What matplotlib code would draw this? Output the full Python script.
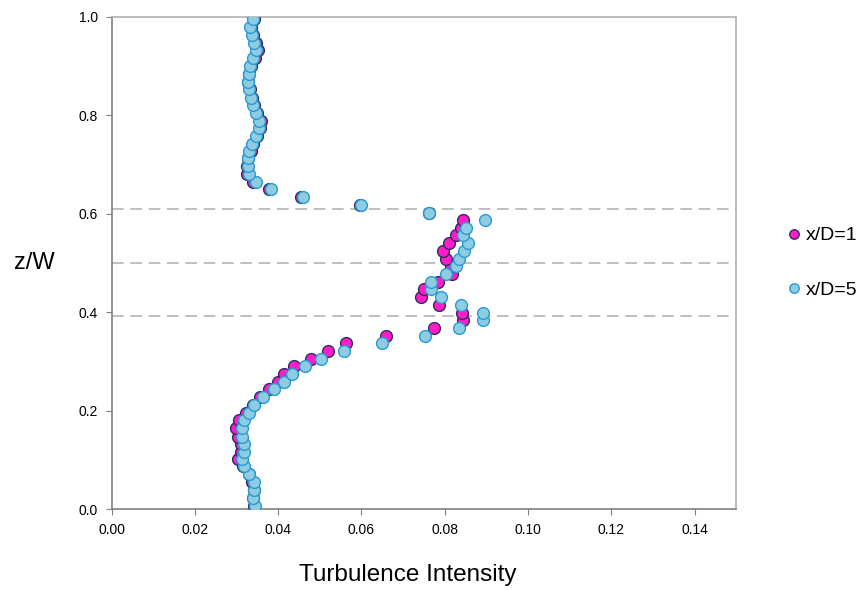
import matplotlib.pyplot as plt

plt.rcParams['font.family'] = ['Liberation Sans', 'DejaVu Sans']

# z/W positions of the measurement points (bottom to top)
z_w = [0.006, 0.022, 0.039, 0.055, 0.071, 0.087, 0.101, 0.116, 0.132, 0.147,
       0.164, 0.180, 0.196, 0.211, 0.227, 0.243, 0.258, 0.274, 0.290, 0.305,
       0.321, 0.337, 0.352, 0.368, 0.384, 0.399, 0.415, 0.430, 0.447, 0.462,
       0.477, 0.493, 0.508, 0.524, 0.540, 0.556, 0.571, 0.586, 0.602, 0.618,
       0.634, 0.650, 0.665, 0.681, 0.696, 0.712, 0.727, 0.742, 0.758, 0.773,
       0.788, 0.804, 0.821, 0.835, 0.852, 0.868, 0.884, 0.900, 0.915, 0.932,
       0.947, 0.962, 0.979, 0.994]

ti_xd1 = [0.0343, 0.0340, 0.0342, 0.0338, 0.0330, 0.0316, 0.0303, 0.0310, 0.0310, 0.0303,
          0.0298, 0.0305, 0.0323, 0.0340, 0.0357, 0.0378, 0.0399, 0.0415, 0.0437, 0.0478,
          0.0519, 0.0563, 0.0658, 0.0775, 0.0843, 0.0842, 0.0787, 0.0743, 0.0751, 0.0785,
          0.0817, 0.0815, 0.0803, 0.0797, 0.0811, 0.0827, 0.0839, 0.0843, 0.0763, 0.0597,
          0.0454, 0.0378, 0.0339, 0.0326, 0.0325, 0.0328, 0.0335, 0.0340, 0.0348, 0.0356,
          0.0358, 0.0350, 0.0342, 0.0336, 0.0332, 0.0328, 0.0331, 0.0335, 0.0345, 0.0352,
          0.0347, 0.0340, 0.0335, 0.0343]

ti_xd5 = [0.0345, 0.0339, 0.0342, 0.0342, 0.0331, 0.0318, 0.0312, 0.0318, 0.0317, 0.0314,
          0.0314, 0.0317, 0.0330, 0.0343, 0.0363, 0.0390, 0.0413, 0.0433, 0.0465, 0.0503,
          0.0557, 0.0650, 0.0753, 0.0835, 0.0891, 0.0891, 0.0839, 0.0791, 0.0767, 0.0768,
          0.0802, 0.0827, 0.0834, 0.0847, 0.0855, 0.0845, 0.0850, 0.0897, 0.0763, 0.0599,
          0.0459, 0.0383, 0.0347, 0.0330, 0.0327, 0.0327, 0.0331, 0.0338, 0.0346, 0.0353,
          0.0353, 0.0347, 0.0340, 0.0335, 0.0331, 0.0328, 0.0330, 0.0333, 0.0340, 0.0346,
          0.0342, 0.0337, 0.0333, 0.0340]

ref_levels = [0.392, 0.500, 0.610]

fig = plt.figure(figsize=(8.59, 5.90), dpi=100)
ax = fig.add_axes([0.130, 0.137, 0.727, 0.835])

for lv in ref_levels:
    ax.axhline(lv, color='#b4b4b4', linestyle=(0, (7, 4)), linewidth=1.2, zorder=1)

ax.plot(ti_xd1, z_w, 'o', markersize=8.5, markerfacecolor='#ff1dc9',
        markeredgecolor='#2e2d5e', markeredgewidth=1.0, label='x/D=1', zorder=3)
ax.plot(ti_xd5, z_w, 'o', markersize=8.5, markerfacecolor='#8ecde0',
        markeredgecolor='#2a98d6', markeredgewidth=1.0, label='x/D=5', zorder=4)

ax.set_xlim(0, 0.15)
ax.set_ylim(0, 1.0)
ax.set_xticks([0.00, 0.02, 0.04, 0.06, 0.08, 0.10, 0.12, 0.14])
ax.set_xticklabels(['0.00', '0.02', '0.04', '0.06', '0.08', '0.10', '0.12', '0.14'])
ax.set_yticks([0.0, 0.2, 0.4, 0.6, 0.8, 1.0])
ax.set_yticklabels(['0.0', '0.2', '0.4', '0.6', '0.8', '1.0'])
ax.tick_params(axis='both', labelsize=10, length=4, width=0.8, color='#808080',
               direction='out', pad=6)

for side in ['left', 'bottom']:
    ax.spines[side].set_color('#808080')
    ax.spines[side].set_linewidth(1.2)
for side in ['top', 'right']:
    ax.spines[side].set_color('#b0b0b0')
    ax.spines[side].set_linewidth(1.2)

ax.set_xlabel('Turbulence Intensity', fontsize=17.5, va='center')
ax.xaxis.set_label_coords(0.474, -0.134)
ax.set_ylabel('z/W', fontsize=17, rotation=0, labelpad=32, va='center')

ax.legend(loc='center left', bbox_to_anchor=(1.034, 0.50), frameon=False,
          fontsize=14, handletextpad=-0.4, labelspacing=1.9, markerscale=0.8)

fig.savefig('out.png', dpi=100)
